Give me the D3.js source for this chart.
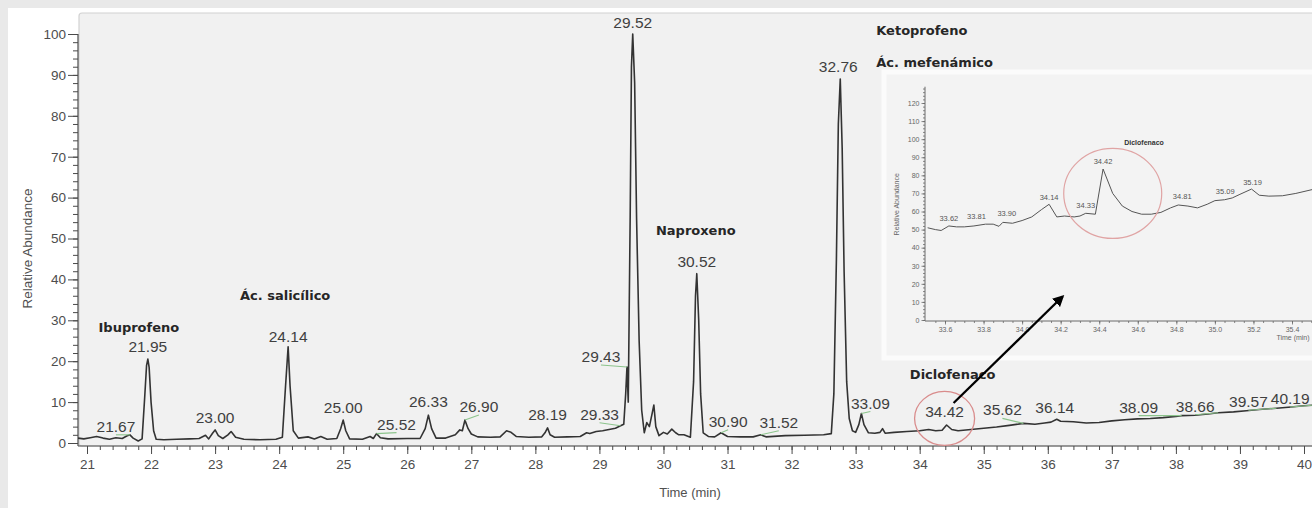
<!DOCTYPE html>
<html>
<head>
<meta charset="utf-8">
<script src="https://cdn.jsdelivr.net/npm/d3@7"></script>
<style>
  html, body { margin: 0; padding: 0; background: #e9e9e9; }
  svg { display: block; }
</style>
</head>
<body>
<svg id="chart" width="1312" height="508"></svg>
<script>
// ---- Chromatogram: retention time (min), relative abundance (%) ----
const chromatogram = [
  [20.86,1.2],[20.95,1.0],[21.05,1.3],[21.15,1.6],[21.25,1.2],[21.35,0.9],[21.45,1.3],[21.55,1.1],
  [21.62,1.7],[21.67,2.0],[21.72,1.2],[21.80,0.5],[21.86,1.0],[21.90,11],[21.93,19],[21.95,20.5],
  [21.97,18.5],[22.00,10],[22.04,3],[22.08,0.9],[22.20,0.8],[22.40,0.9],[22.60,1.0],[22.75,1.1],
  [22.85,1.9],[22.90,1.0],[22.96,2.4],[23.00,3.2],[23.05,1.8],[23.12,1.1],[23.20,2.0],[23.25,2.8],
  [23.32,1.4],[23.45,0.9],[23.70,0.8],[23.95,0.9],[24.05,1.4],[24.10,14],[24.14,23.5],[24.17,14],
  [24.22,3],[24.30,1.2],[24.45,1.5],[24.55,1.0],[24.65,1.6],[24.75,0.9],[24.90,1.1],[24.96,3.5],
  [25.00,5.6],[25.04,3],[25.10,1.0],[25.30,0.9],[25.42,1.6],[25.47,1.1],[25.52,2.3],[25.58,1.3],
  [25.70,1.0],[26.00,1.1],[26.20,1.1],[26.28,3.5],[26.33,6.8],[26.38,3.5],[26.45,1.2],[26.60,1.2],
  [26.75,2.0],[26.82,3.2],[26.86,3.0],[26.90,5.6],[26.95,3.5],[27.00,2.2],[27.10,1.5],[27.30,1.4],
  [27.45,1.5],[27.55,3.0],[27.62,2.6],[27.70,1.6],[27.90,1.4],[28.10,1.5],[28.15,2.5],[28.19,3.7],
  [28.23,2.0],[28.30,1.4],[28.50,1.5],[28.70,1.6],[28.80,2.5],[28.85,2.3],[28.95,2.8],[29.05,3.0],
  [29.15,3.3],[29.25,3.6],[29.33,4.2],[29.38,4.6],[29.41,12],[29.43,18.6],[29.45,10],[29.48,55],
  [29.50,92],[29.52,100],[29.55,88],[29.58,55],[29.62,25],[29.66,8],[29.70,2.5],[29.74,5],
  [29.78,4],[29.82,7],[29.85,9.3],[29.88,4],[29.93,1.8],[30.00,2.6],[30.06,2.2],[30.13,3.4],
  [30.19,2.5],[30.24,2.0],[30.32,2.0],[30.42,1.4],[30.47,15],[30.50,36],[30.52,41.4],[30.55,30],
  [30.58,12],[30.62,2.5],[30.70,1.6],[30.80,1.5],[30.90,2.5],[31.00,1.6],[31.20,1.5],[31.40,1.5],
  [31.52,2.0],[31.60,1.5],[31.90,1.8],[32.20,1.9],[32.50,2.0],[32.62,2.3],[32.66,12],[32.70,45],
  [32.73,78],[32.76,89],[32.79,72],[32.82,42],[32.86,15],[32.90,6],[32.95,3],[33.00,2.6],
  [33.05,4.5],[33.09,7.2],[33.13,4.5],[33.20,2.5],[33.30,2.4],[33.38,2.6],[33.42,3.5],[33.46,2.4],
  [33.60,2.6],[33.80,2.8],[34.00,3.0],[34.14,3.3],[34.25,3.0],[34.35,3.1],[34.42,4.4],[34.50,3.3],
  [34.60,3.0],[34.80,3.3],[35.00,3.6],[35.20,3.9],[35.40,4.3],[35.62,4.8],[35.80,4.6],[35.95,4.9],
  [36.05,5.1],[36.14,5.8],[36.20,5.3],[36.40,5.2],[36.60,4.9],[36.80,5.0],[37.00,5.4],[37.20,5.7],
  [37.40,5.9],[37.60,6.0],[37.80,6.2],[38.00,6.5],[38.09,6.7],[38.30,6.8],[38.50,7.1],[38.66,7.4],
  [38.90,7.6],[39.10,7.9],[39.30,8.2],[39.57,8.5],[39.80,8.8],[40.00,9.1],[40.19,9.3],[40.30,9.5]
];

// Labelled retention times on the full chromatogram
const peakTimes = [21.67, 21.95, 23.00, 24.14, 25.00, 25.52, 26.33, 26.90, 28.19, 29.33, 29.43, 29.52,
                   30.52, 30.90, 31.52, 32.76, 33.09, 34.42, 35.62, 36.14, 38.09, 38.66, 39.57, 40.19];

// Identified compounds and the peak each one belongs to
const compoundNames = ["Ibuprofeno", "Ác. salicílico", "Naproxeno", "Ketoprofeno", "Ác. mefenámico", "Diclofenaco"];
const compoundPeaks = [21.95, 24.14, 30.52, 32.76, 32.76, 34.42];

// Axis ticks
const xTickValues = [21, 22, 23, 24, 25, 26, 27, 28, 29, 30, 31, 32, 33, 34, 35, 36, 37, 38, 39, 40];
const yTickValues = [0, 10, 20, 30, 40, 50, 60, 70, 80, 90, 100];

// ---- Expanded view 33.5–35.5 min (diclofenaco region) ----
const insetTrace = [
  [33.51,51],[33.55,50],[33.58,49.5],[33.62,52],[33.66,51.5],[33.70,51.5],[33.75,52],[33.81,53],
  [33.85,53],[33.88,51.8],[33.90,54],[33.95,53.5],[34.00,55],[34.05,57],[34.10,61],[34.14,64],
  [34.18,57],[34.22,57.5],[34.27,57],[34.30,57.5],[34.33,59],[34.38,58.5],[34.42,83.5],[34.47,70],
  [34.52,63],[34.57,60],[34.62,58.5],[34.67,58.5],[34.72,59.5],[34.77,62],[34.81,63.6],[34.86,63],
  [34.91,62],[34.96,64],[35.00,66],[35.05,66.5],[35.09,67.5],[35.13,69.5],[35.19,72.4],[35.23,69],
  [35.28,68.5],[35.35,68.7],[35.42,70],[35.52,72.5]
];
const insetPeakTimes = [33.62, 33.81, 33.90, 34.14, 34.33, 34.42, 34.81, 35.09, 35.19];
const insetXTickValues = [33.6, 33.8, 34.0, 34.2, 34.4, 34.6, 34.8, 35.0, 35.2, 35.4];
const insetYTickValues = [0, 10, 20, 30, 40, 50, 60, 70, 80, 90, 100, 110, 120];

// ---------------------------------------------------------------------------
const W = 1312, H = 508;
const svg = d3.select('#chart');
const FONT = "'Liberation Sans', Arial, sans-serif";
const BOLD = "'DejaVu Sans', Verdana, sans-serif";

// Label placement (pixel offsets from each peak apex: dx, baseline dy, leader line)
const peakLabelLayout = [
  [-14,-3,1],[0,-7,0],[0,-7,0],[0,-5,0],[0,-7,0],[20,-4,1],[0,-8,0],[14,-8,1],[0,-8,0],[-21,-6,1],
  [-26,-5,1],[0,-6,0],[0,-7,0],[7,-6,1],[18,-7,1],[-2,-7,0],[9,-5,1],[-2,-8,0],[-21,-8,1],[-2,-6,0],
  [-43,-3,1],[-23,-1,1],[-28,-1,1],[-26,-1,1]
];
const compoundLayout = [
  [-9,-27,'middle'],[-3,-47,'middle'],[-1,-39,'middle'],[36,-44,'start'],[36,-12,'start'],[6,-46,'middle']
];
const insetLabelLayout = [[0,-5],[-9,-5],[4,-6],[0,-4],[0,-5],[0,-5],[4,-6],[-7,-4],[1,-4]];

// Page backdrop
svg.append('rect').attr('width', W).attr('height', H).attr('fill', '#e9e9e9');
svg.append('rect').attr('x', 8).attr('y', 8).attr('width', W - 8).attr('height', H - 8).attr('fill', '#ffffff');

// Main scales
const x = d3.scaleLinear().domain([21, 40]).range([87, 1304]);
const y = d3.scaleLinear().domain([0, 100]).range([443, 34]);
const axisY = 446, axisX = 78;

// Plot panel
svg.append('rect').attr('x', 79).attr('y', 13).attr('width', W - 79 + 6).attr('height', axisY - 13)
  .attr('rx', 3).attr('fill', '#f1f1f1').attr('stroke', '#d2d2d2').attr('stroke-width', 1.2);

svg.append('clipPath').attr('id', 'plotClip').append('rect')
  .attr('x', axisX).attr('y', 13).attr('width', W - axisX).attr('height', axisY - 13);

// Axes
function styleAxis(g, size) {
  g.selectAll('path.domain').remove();
  g.selectAll('line').attr('stroke', '#4a4a4a').attr('stroke-width', 1);
  g.selectAll('text').attr('fill', '#4d4d4d').style('font-family', FONT).style('font-size', size + 'px');
}

const xMinor = d3.range(20.8, 40.3, 0.2).map(v => +v.toFixed(1));
const gxMinor = svg.append('g').attr('transform', `translate(0,${axisY})`)
  .call(d3.axisBottom(x).tickValues(xMinor.filter(v => v >= 20.86)).tickSize(4).tickFormat(''));
styleAxis(gxMinor, 13);
const gx = svg.append('g').attr('transform', `translate(0,${axisY})`)
  .call(d3.axisBottom(x).tickValues(xTickValues).tickSize(8).tickPadding(5).tickFormat(d3.format('d')));
styleAxis(gx, 13.5);
svg.append('line').attr('x1', axisX).attr('x2', W).attr('y1', axisY).attr('y2', axisY)
  .attr('stroke', '#4a4a4a').attr('stroke-width', 1.2);

const gyMinor = svg.append('g').attr('transform', `translate(${axisX},0)`)
  .call(d3.axisLeft(y).tickValues(d3.range(0, 101, 2)).tickSize(5).tickFormat(''));
styleAxis(gyMinor, 13);
const gy = svg.append('g').attr('transform', `translate(${axisX},0)`)
  .call(d3.axisLeft(y).tickValues(yTickValues).tickSize(10).tickPadding(2).tickFormat(d3.format('d')));
styleAxis(gy, 13.5);
svg.append('line').attr('x1', axisX).attr('x2', axisX).attr('y1', y(100)).attr('y2', axisY)
  .attr('stroke', '#4a4a4a').attr('stroke-width', 1.2);

svg.append('text').attr('transform', `translate(32,${(y(0) + y(100)) / 2 + 10}) rotate(-90)`)
  .attr('text-anchor', 'middle').attr('fill', '#505050')
  .style('font-family', FONT).style('font-size', '13.5px').text('Relative Abundance');
svg.append('text').attr('x', 690).attr('y', 497).attr('text-anchor', 'middle').attr('fill', '#505050')
  .style('font-family', FONT).style('font-size', '13px').text('Time (min)');

// Trace
const valueAt = (arr, t) => arr.find(d => d[0] === t)[1];
const line = d3.line().x(d => x(d[0])).y(d => y(d[1]));
svg.append('path').datum(chromatogram).attr('clip-path', 'url(#plotClip)')
  .attr('d', line).attr('fill', 'none').attr('stroke', '#333333').attr('stroke-width', 1.6)
  .attr('stroke-linejoin', 'round');

// Peak labels with leader lines
const labelG = svg.append('g');
peakTimes.forEach((t, i) => {
  const px = x(t), py = y(valueAt(chromatogram, t));
  const [dx, dy, leader] = peakLabelLayout[i];
  const lx = px + dx, ly = py + dy;
  if (leader) {
    labelG.append('line').attr('x1', lx).attr('y1', ly + 3).attr('x2', px).attr('y2', py)
      .attr('stroke', '#8cc48c').attr('stroke-width', 1.1);
  }
  labelG.append('text').attr('x', lx).attr('y', ly).attr('text-anchor', 'middle')
    .attr('fill', '#3f3f3f').style('font-family', FONT).style('font-size', '15.5px')
    .text(d3.format('.2f')(t));
});

// Compound names
compoundNames.forEach((name, i) => {
  const t = compoundPeaks[i];
  const px = x(t), py = y(valueAt(chromatogram, t));
  const [dx, dy, anchor] = compoundLayout[i];
  svg.append('text').attr('x', px + dx).attr('y', py + dy).attr('text-anchor', anchor)
    .attr('fill', '#262626').style('font-family', BOLD).style('font-weight', 'bold')
    .style('font-size', '13px').text(name);
});

// Highlight around the diclofenaco peak
svg.append('ellipse').attr('cx', x(34.42) - 2).attr('cy', y(6)).attr('rx', 30).attr('ry', 27)
  .attr('fill', 'none').attr('stroke', '#d98c8c').attr('stroke-width', 1.3);

// ---- Expanded view ----
const panel = { x: 884, y: 72, w: W - 884 + 6, h: 286 };
svg.append('rect').attr('x', panel.x).attr('y', panel.y).attr('width', panel.w).attr('height', panel.h)
  .attr('fill', '#f3f3f3').attr('stroke', '#fbfbfb').attr('stroke-width', 5);

const ix = d3.scaleLinear().domain([33.6, 35.4]).range([945, 1292]);
const iy = d3.scaleLinear().domain([0, 120]).range([320, 103]);
const iAxisX = 925, iAxisY = 321;

svg.append('clipPath').attr('id', 'insetClip').append('rect')
  .attr('x', iAxisX).attr('y', 80).attr('width', W - iAxisX).attr('height', iAxisY - 80);

function styleInset(g) {
  g.selectAll('path.domain').remove();
  g.selectAll('line').attr('stroke', '#6a6a6a').attr('stroke-width', 0.8);
  g.selectAll('text').attr('fill', '#666').style('font-family', FONT).style('font-size', '7px');
}
const ixMinor = d3.range(33.55, 35.56, 0.05).map(v => +v.toFixed(2));
styleInset(svg.append('g').attr('transform', `translate(0,${iAxisY})`)
  .call(d3.axisBottom(ix).tickValues(ixMinor).tickSize(2).tickFormat('')));
styleInset(svg.append('g').attr('transform', `translate(0,${iAxisY})`)
  .call(d3.axisBottom(ix).tickValues(insetXTickValues).tickSize(3.5).tickPadding(3).tickFormat(d3.format('.1f'))));
styleInset(svg.append('g').attr('transform', `translate(${iAxisX},0)`)
  .call(d3.axisLeft(iy).tickValues(d3.range(0, 129, 2)).tickSize(2).tickFormat('')));
styleInset(svg.append('g').attr('transform', `translate(${iAxisX},0)`)
  .call(d3.axisLeft(iy).tickValues(insetYTickValues).tickSize(3.5).tickPadding(2).tickFormat(d3.format('d'))));
svg.append('line').attr('x1', iAxisX).attr('x2', W).attr('y1', iAxisY).attr('y2', iAxisY)
  .attr('stroke', '#6a6a6a').attr('stroke-width', 1);
svg.append('line').attr('x1', iAxisX).attr('x2', iAxisX).attr('y1', iy(129)).attr('y2', iAxisY)
  .attr('stroke', '#6a6a6a').attr('stroke-width', 1);

svg.append('text').attr('transform', `translate(899,${iy(64)}) rotate(-90)`).attr('text-anchor', 'middle')
  .attr('fill', '#666').style('font-family', FONT).style('font-size', '7px').text('Relative Abundance');
svg.append('text').attr('x', 1293).attr('y', 340).attr('text-anchor', 'middle')
  .attr('fill', '#666').style('font-family', FONT).style('font-size', '7px').text('Time (min)');

const iline = d3.line().x(d => ix(d[0])).y(d => iy(d[1]));
svg.append('path').datum(insetTrace).attr('clip-path', 'url(#insetClip)').attr('d', iline)
  .attr('fill', 'none').attr('stroke', '#555').attr('stroke-width', 1).attr('stroke-linejoin', 'round');

insetPeakTimes.forEach((t, i) => {
  const [dx, dy] = insetLabelLayout[i];
  svg.append('text').attr('x', ix(t) + dx).attr('y', iy(valueAt(insetTrace, t)) + dy)
    .attr('text-anchor', 'middle').attr('fill', '#555')
    .style('font-family', FONT).style('font-size', '7.5px').text(d3.format('.2f')(t));
});
svg.append('text').attr('x', ix(34.42) + 41).attr('y', iy(valueAt(insetTrace, 34.42)) - 24)
  .attr('text-anchor', 'middle').attr('fill', '#333').style('font-family', FONT).style('font-weight', 'bold')
  .style('font-size', '7px').text('Diclofenaco');

svg.append('ellipse').attr('cx', ix(34.47)).attr('cy', iy(70)).attr('rx', 49).attr('ry', 45)
  .attr('fill', 'none').attr('stroke', '#e0a4a4').attr('stroke-width', 1.2);

// Arrow from the highlighted peak to the expanded view
svg.append('defs').append('marker').attr('id', 'arrowHead').attr('viewBox', '0 0 10 10')
  .attr('refX', 8).attr('refY', 5).attr('markerWidth', 5).attr('markerHeight', 5)
  .attr('orient', 'auto').append('path').attr('d', 'M0,0 L10,5 L0,10 Z').attr('fill', '#000');
svg.append('line').attr('x1', x(34.42) + 7).attr('y1', y(4.4) - 22)
  .attr('x2', ix(34.21)).attr('y2', iy(13))
  .attr('stroke', '#000').attr('stroke-width', 2.3).attr('marker-end', 'url(#arrowHead)');
</script>
</body>
</html>
